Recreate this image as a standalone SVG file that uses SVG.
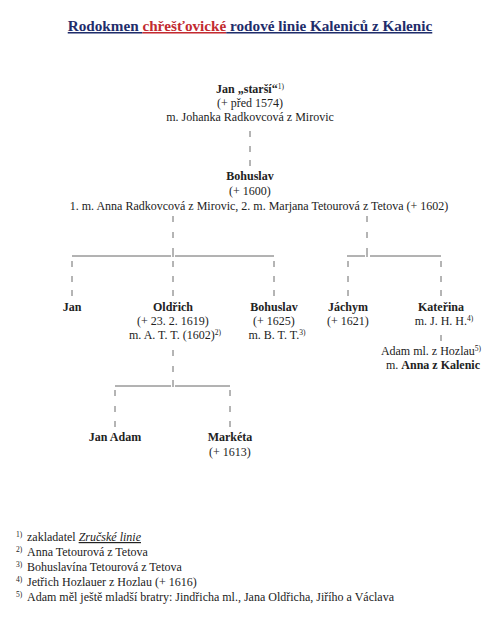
<svg xmlns="http://www.w3.org/2000/svg" width="500" height="623" viewBox="0 0 500 623">
<style>
text{font-family:"Liberation Serif","DejaVu Serif",serif;font-size:12px;fill:#222;}
.c{text-anchor:middle;}
.b{font-weight:bold;}
.sup{font-size:7.5px;}
.title{font-size:15.2px;font-weight:bold;text-anchor:middle;}
.blue{fill:#1f2d6b;text-decoration:underline;}
.red{fill:#c22a30;text-decoration:underline;}
.ln{stroke:#555;stroke-width:0.9;fill:none;}
.tk{stroke:#444;stroke-width:0.8;fill:none;}
</style>
<rect width="500" height="623" fill="#fff"/>
<g id="title">
<text class="title" x="250" y="31"><tspan class="blue">Rodokmen </tspan><tspan class="red">chřešťovické</tspan><tspan class="blue"> rodové linie Kaleniců z Kalenic</tspan></text>
</g>
<g id="connectors">
<path class="tk" d="M250 131v6M250 146v6M250 160v6"/>
<path class="tk" d="M173 216v6M173 232v6M173 248v9M367 216v6M367 232v6M367 248v9"/>
<path class="ln" d="M72 256H171M175 256H274M347 256H365M370 256H441"/>
<path class="tk" d="M72 261v6M72 276v6M72 290v6M173 261v6M173 276v6M173 290v6M274 261v6M274 276v6M274 290v6M348 261v6M348 276v6M348 290v6M441 261v6M441 276v6M441 290v6"/>
<path class="tk" d="M441 335v6"/>
<path class="tk" d="M173 350v6M173 366v6M173 380v7"/>
<path class="ln" d="M115 386H171M175 386H230"/>
<path class="tk" d="M115 390v6M115 406v6M115 421v6M230 390v6M230 406v6M230 421v6"/>
</g>
<g id="jan-starsi">
<text class="c" x="250" y="93"><tspan class="b">Jan „starší“</tspan><tspan class="sup" dy="-4">1)</tspan></text>
<text class="c" x="250" y="107">(+ před 1574)</text>
<text class="c" x="250" y="121">m. Johanka Radkovcová z Mirovic</text>
</g>
<g id="bohuslav-1600">
<text class="c b" x="250" y="180">Bohuslav</text>
<text class="c" x="250" y="195">(+ 1600)</text>
<text class="c" x="259" y="210">1. m. Anna Radkovcová z Mirovic, 2. m. Marjana Tetourová z Tetova (+ 1602)</text>
</g>
<g id="jan">
<text class="c b" x="72" y="311">Jan</text>
</g>
<g id="oldrich">
<text class="c b" x="173" y="311">Oldřich</text>
<text class="c" x="173" y="325">(+ 23. 2. 1619)</text>
<text class="c" x="175" y="339">m. A. T. T. (1602)<tspan class="sup" dy="-4">2)</tspan></text>
</g>
<g id="bohuslav-1625">
<text class="c b" x="274" y="311">Bohuslav</text>
<text class="c" x="274" y="325">(+ 1625)</text>
<text class="c" x="277" y="339">m. B. T. T.<tspan class="sup" dy="-4">3)</tspan></text>
</g>
<g id="jachym">
<text class="c b" x="348" y="311">Jáchym</text>
<text class="c" x="348" y="325">(+ 1621)</text>
</g>
<g id="katerina">
<text class="c b" x="441" y="311">Kateřina</text>
<text class="c" x="444" y="325">m. J. H. H.<tspan class="sup" dy="-4">4)</tspan></text>
</g>
<g id="adam">
<text class="c" x="431" y="355">Adam ml. z Hozlau<tspan class="sup" dy="-4">5)</tspan></text>
<text class="c" x="433" y="369">m. <tspan class="b">Anna z Kalenic</tspan></text>
</g>
<g id="jan-adam">
<text class="c b" x="115" y="441">Jan Adam</text>
</g>
<g id="marketa">
<text class="c b" x="230" y="441">Markéta</text>
<text class="c" x="230" y="456">(+ 1613)</text>
</g>
<g id="footnotes">
<text x="16" y="541"><tspan class="sup" dy="-4">1)</tspan><tspan x="27" dy="4">zakladatel </tspan><tspan font-style="italic" text-decoration="underline">Zručské linie</tspan></text>
<text x="16" y="556"><tspan class="sup" dy="-4">2)</tspan><tspan x="27" dy="4">Anna Tetourová z Tetova</tspan></text>
<text x="16" y="571"><tspan class="sup" dy="-4">3)</tspan><tspan x="27" dy="4">Bohuslavína Tetourová z Tetova</tspan></text>
<text x="16" y="586"><tspan class="sup" dy="-4">4)</tspan><tspan x="27" dy="4">Jetřich Hozlauer z Hozlau (+ 1616)</tspan></text>
<text x="16" y="601"><tspan class="sup" dy="-4">5)</tspan><tspan x="27" dy="4">Adam měl ještě mladší bratry: Jindřicha ml., Jana Oldřicha, Jiřího a Václava</tspan></text>
</g>
</svg>
